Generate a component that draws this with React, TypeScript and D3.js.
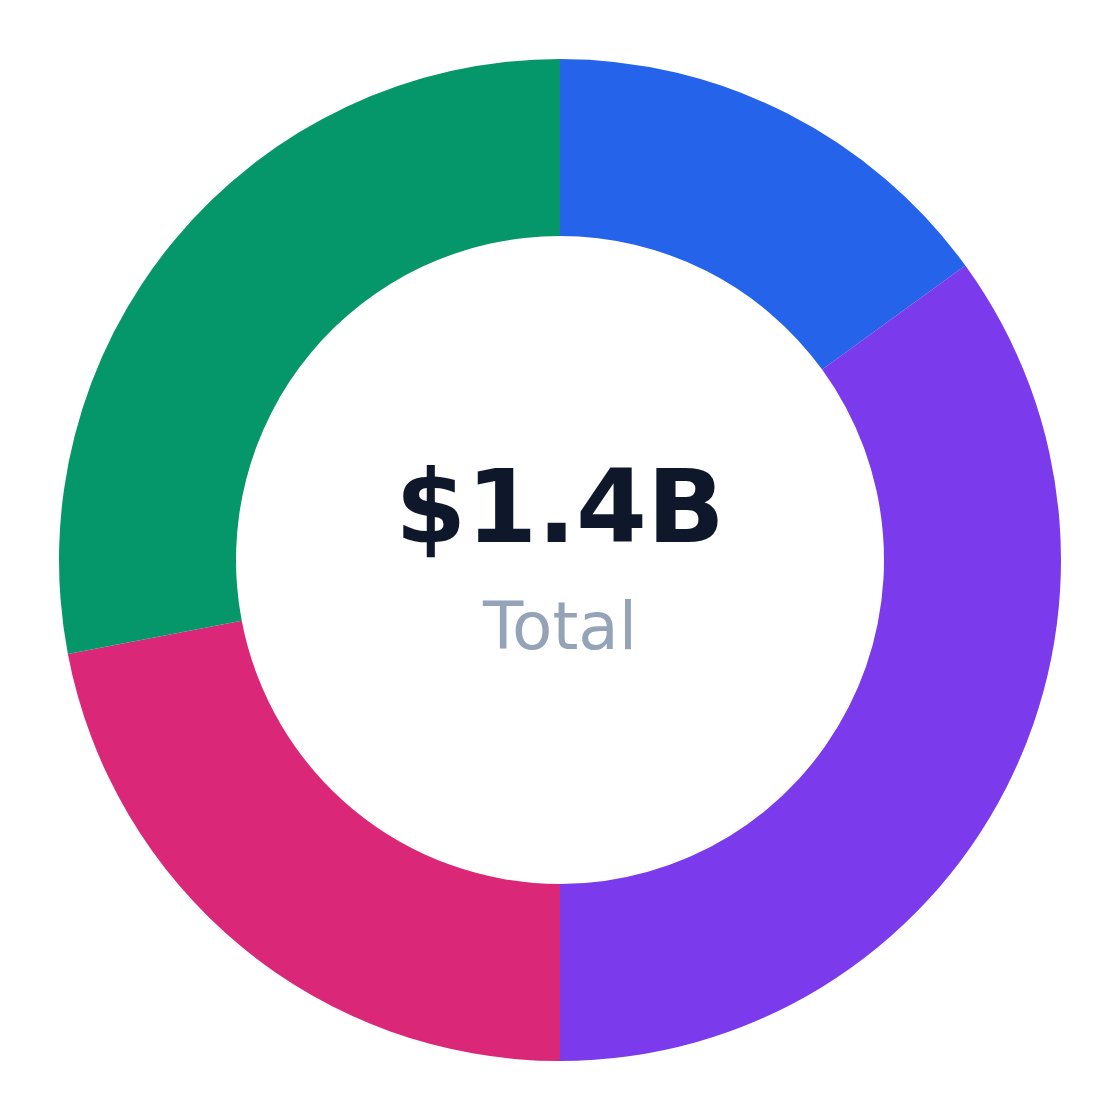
import React from "react";
import * as d3 from "d3";

const categories = ["A", "B", "C", "D"];
const values = [15, 35, 22, 28];
const colors = ["#2563eb", "#7c3aed", "#db2777", "#059669"];
const totalLabel = "$1.4B";
const subLabel = "Total";

export default function App() {
  const W = 1120;
  const H = 1120;
  const cx = 560;
  const cy = 560;
  const outer = 501;
  const inner = 324;
  const pie = d3.pie<number>().sort(null).value((d) => d);
  const arcs = pie(values);
  const arc = d3.arc<d3.PieArcDatum<number>>().innerRadius(inner).outerRadius(outer);
  return (
    <svg width={W} height={H} style={{ position: "fixed", left: 0, top: 0, background: "#fff" }}>
      <g transform={`translate(${cx},${cy})`}>
        {arcs.map((a, i) => (
          <path key={categories[i]} d={arc(a) || ""} fill={colors[i]} />
        ))}
        <text
          x={0}
          y={-18}
          textAnchor="middle"
          fontFamily="DejaVu Sans"
          fontWeight="bold"
          fontSize={102}
          fill="#0f172a"
        >
          {totalLabel}
        </text>
        <text x={0} y={89} textAnchor="middle" fontFamily="DejaVu Sans" fontSize={66} fill="#94a3b8">
          {subLabel}
        </text>
      </g>
    </svg>
  );
}
